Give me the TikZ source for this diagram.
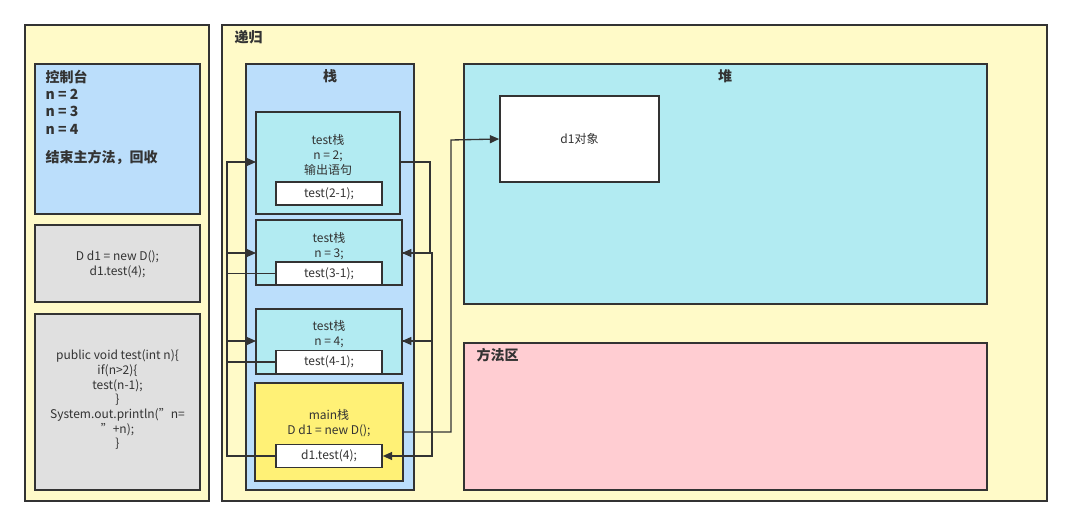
\documentclass[tikz,border=0pt]{standalone}
\usepackage{fontspec}
\setmainfont{Noto Sans CJK SC}
\usetikzlibrary{arrows.meta}
\definecolor{bgyel}{RGB}{255,250,200}
\definecolor{ltblue}{RGB}{187,222,251}
\definecolor{ltcyan}{RGB}{178,235,242}
\definecolor{ltgray}{RGB}{224,224,224}
\definecolor{mainyel}{RGB}{255,241,118}
\definecolor{ltpink}{RGB}{255,205,210}
\definecolor{edge}{RGB}{51,51,51}
\tikzset{
  box/.style={draw=edge,line width=1.2pt},
  txt/.style={font=\fontsize{9}{11}\selectfont,text=edge,align=center},
  bold/.style={font=\fontsize{10.5}{13}\selectfont\bfseries,text=edge,align=left},
  link/.style={draw=edge,line width=1pt,-{Triangle[length=7pt,width=6pt]}}
}
\begin{document}
\begin{tikzpicture}[x=0.75pt,y=-0.75pt]
        \useasboundingbox[fill=white] (0,0) rectangle (1073,527);

        % left column
        \draw[box,fill=bgyel] (25,25) rectangle (209,501);
        \draw[box,fill=ltblue] (35,64) rectangle (200,214);
        \node[bold,anchor=north west] (console) at (41,65) {控制台\\n = 2\\n = 3\\n = 4\\[8pt]结束主方法，回收};
        \draw[box,fill=ltgray] (35,225) rectangle (200,302);
        \node[txt] (call) at (117.5,264) {D d1 = new D();\\d1.test(4);};
        \draw[box,fill=ltgray] (35,314) rectangle (200,490);
        \node[txt] (code) at (117.5,400) {public void test(int n)\{\\if(n>2)\{\\test(n-1);\\\}\\System.out.println("n=\\"+n);\\\}};

        % recursion area
        \draw[box,fill=bgyel] (222,25) rectangle (1047,501);
        \node[bold,anchor=west] (title) at (230,37) {递归};

        % stack
        \draw[box,fill=ltblue] (246,64) rectangle (414,490);
        \node[bold] (stack) at (330,76) {栈};
        \draw[box,fill=ltcyan] (256,112) rectangle (400,214);
        \node[txt] (t2) at (328,155) {test栈\\n = 2;\\输出语句};
        \draw[box,fill=ltcyan] (256,220) rectangle (402,285);
        \node[txt] (t3) at (329,246) {test栈\\n = 3;};
        \draw[box,fill=ltcyan] (256,309) rectangle (402,374);
        \node[txt] (t4) at (329,334) {test栈\\n = 4;};
        \draw[box,fill=mainyel] (255,383) rectangle (403,481);
        \node[txt] (mn) at (329,423) {main栈\\D d1 = new D();};
        \node[box,fill=white,txt,minimum width=106*0.75pt,minimum height=23*0.75pt,inner sep=0pt] (c2) at (329,193.5) {test(2-1);};
        \node[box,fill=white,txt,minimum width=106*0.75pt,minimum height=23*0.75pt,inner sep=0pt] (c3) at (329,273.5) {test(3-1);};
        \node[box,fill=white,txt,minimum width=106*0.75pt,minimum height=23*0.75pt,inner sep=0pt] (c4) at (329,362) {test(4-1);};
        \node[box,fill=white,txt,minimum width=106*0.75pt,minimum height=23*0.75pt,inner sep=0pt] (c1) at (329,456) {d1.test(4);};

        % frame edges
        \coordinate (f2w) at (256,162); \coordinate (f2e) at (400,162);
        \coordinate (f3w) at (256,253); \coordinate (f3e) at (402,253);
        \coordinate (f4w) at (256,341); \coordinate (f4e) at (402,341);
        \coordinate (fme) at (403,432);

        % heap
        \draw[box,fill=ltcyan] (464,64) rectangle (987,304);
        \node[bold] (heap) at (725,76) {堆};
        \node[box,fill=white,txt,minimum width=159*0.75pt,minimum height=86*0.75pt,inner sep=0pt] (obj) at (579.5,139) {d1对象};

        % method area
        \draw[box,fill=ltpink] (464,343) rectangle (987,490);
        \node[bold,anchor=west] (method) at (472,355) {方法区};

        % calls
        \draw[link] (c1.west) -| (227,341) -- (f4w);
        \draw[link] (c4.west) -| (227,253) -- (f3w);
        \draw[link] (c3.west) -| (227,162) -- (f2w);
        % returns
        \draw[link] (f2e) -| (430,253) -- (f3e);
        \draw[link] (f3e) -| (432,341) -- (f4e);
        \draw[link] (f4e) -| (432,456) -- (c1.east);
        \draw[link] (fme) -| (451,140) -- (obj.west);
\end{tikzpicture}
\end{document}
